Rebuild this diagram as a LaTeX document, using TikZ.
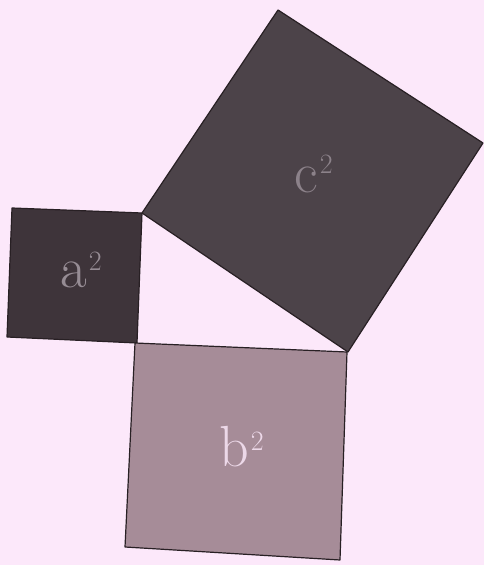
\documentclass[tikz,border=0pt]{standalone}
\usepackage{fontspec}
\definecolor{bgpink}{RGB}{252,232,250}
\definecolor{darksq}{RGB}{62,52,58}
\definecolor{darksqc}{RGB}{76,67,73}
\definecolor{midsq}{RGB}{166,140,152}
\definecolor{lblA}{RGB}{150,140,148}
\definecolor{lblC}{RGB}{140,130,138}
\definecolor{lblB}{RGB}{236,216,232}
\definecolor{edge}{RGB}{40,32,36}
\tikzset{
  sqbox/.style={draw=edge, line width=1.2pt, line join=round},
  lbl/.style={inner sep=0pt, anchor=base west, font=\fontsize{58}{60}\selectfont}
}
\newcommand{\supII}[1]{\hspace{2pt}\raisebox{#1}{\fontsize{28}{28}\selectfont 2}}
\begin{document}
\begin{tikzpicture}[x=1pt,y=1pt]
\fill[bgpink] (0,0) rectangle (484,565);
\useasboundingbox (0,0) rectangle (484,565);
% square a^2
\coordinate (a1) at (12,357);
\coordinate (a2) at (142,352);
\coordinate (a3) at (137,222);
\coordinate (a4) at (7,228);
% square b^2
\coordinate (b1) at (135,222);
\coordinate (b2) at (347,213);
\coordinate (b3) at (340,5);
\coordinate (b4) at (125,18);
% square c^2
\coordinate (c1) at (142,352);
\coordinate (c2) at (278,555);
\coordinate (c3) at (483,422);
\coordinate (c4) at (348,213);
\filldraw[sqbox, fill=darksq] (a1) -- (a2) -- (a3) -- (a4) -- cycle;
\filldraw[sqbox, fill=midsq] (b1) -- (b2) -- (b3) -- (b4) -- cycle;
\filldraw[sqbox, fill=darksqc] (c1) -- (c2) -- (c3) -- (c4) -- cycle;
% labels
\node[lbl, text=lblA] (la) at (60,277) {a\supII{17pt}};
\node[lbl, text=lblB] (lb) at (219,98) {b\supII{16pt}};
\node[lbl, text=lblC] (lc) at (294,372) {c\supII{19pt}};
\end{tikzpicture}
\end{document}
